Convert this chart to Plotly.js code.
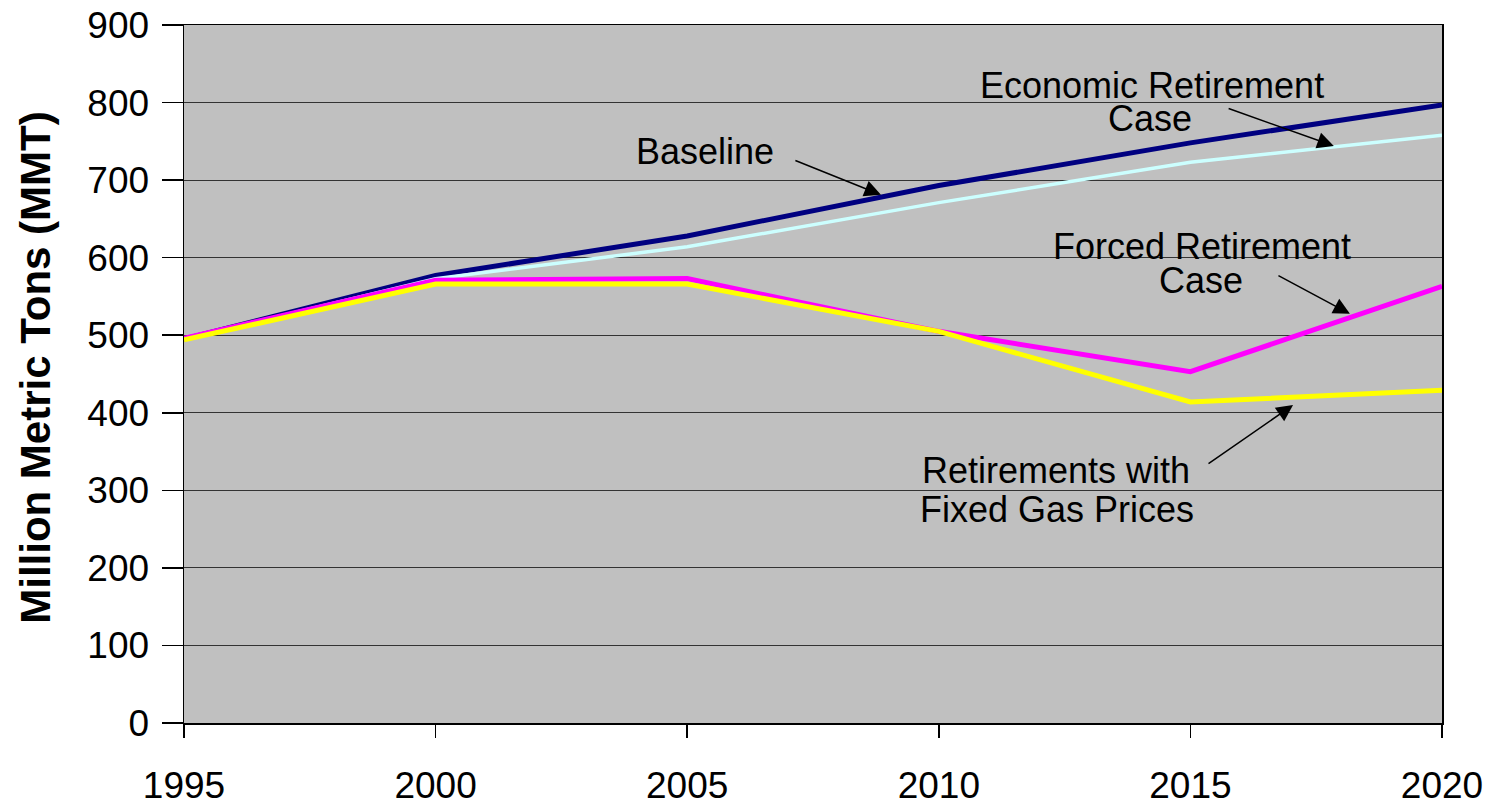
<!DOCTYPE html>
<html>
<head>
<meta charset="utf-8">
<script src="https://cdn.plot.ly/plotly-3.0.1.min.js"></script>
<style>html,body{margin:0;padding:0;background:#fff;}#chart{width:1503px;height:808px;}</style>
</head>
<body>
<div id="chart"></div>
<script>
const years = [1995, 2000, 2005, 2010, 2015, 2020];
const baseline = [495, 577, 628, 693, 748, 797];
const economicRetirement = [495, 573, 614, 671, 723, 758];
const forcedRetirement = [496, 571, 573, 505, 453, 563];
const fixedGasPrices = [494, 566, 566, 505, 414, 429];
const yTicks = [0, 100, 200, 300, 400, 500, 600, 700, 800, 900];
const xTicks = [1995, 2000, 2005, 2010, 2015, 2020];
const yTitle = 'Million Metric Tons (MMT)';

const FONT = 'Liberation Sans, Arial, sans-serif';

const traces = [
  {x: years, y: baseline, name: 'Baseline', mode: 'lines', line: {color: '#000080', width: 5}},
  {x: years, y: economicRetirement, name: 'Economic Retirement Case', mode: 'lines', line: {color: '#ccffff', width: 3.5}},
  {x: years, y: forcedRetirement, name: 'Forced Retirement Case', mode: 'lines', line: {color: '#ff00ff', width: 5}},
  {x: years, y: fixedGasPrices, name: 'Retirements with Fixed Gas Prices', mode: 'lines', line: {color: '#ffff00', width: 5}}
];

function label(text, x, y) {
  return {text: text, x: x, y: y, xref: 'x', yref: 'y', showarrow: false,
          xanchor: 'center', yanchor: 'middle', font: {family: FONT, size: 36, color: '#000'}};
}
function arrow(x, y, ax, ay) {
  return {text: '', x: x, y: y, ax: ax, ay: ay, xref: 'x', yref: 'y', axref: 'x', ayref: 'y',
          showarrow: true, arrowhead: 2, arrowsize: 2.2, arrowwidth: 1.5, arrowcolor: '#000', standoff: 0};
}

const annotations = [
  {text: '<b>' + yTitle + '</b>', xref: 'paper', yref: 'paper', x: -0.1176, y: 0.509,
   xanchor: 'center', yanchor: 'middle', textangle: -90, showarrow: false,
   font: {family: FONT, size: 42, color: '#000'}},
  label('Baseline', 2005.35, 737),
  arrow(2008.85, 681, 2007.12, 726),
  label('Economic Retirement', 2014.23, 822),
  label('Case', 2014.2, 779),
  arrow(2017.85, 744, 2015.73, 793),
  label('Forced Retirement', 2015.23, 614),
  label('Case', 2015.21, 571),
  arrow(2018.17, 527.6, 2016.72, 577.8),
  label('Retirements with', 2012.33, 325),
  label('Fixed Gas Prices', 2012.34, 275),
  arrow(2017.04, 410, 2015.33, 333)
];

const layout = {
  width: 1503, height: 808,
  margin: {l: 184, r: 61, t: 25, b: 85, pad: 0},
  paper_bgcolor: '#ffffff',
  plot_bgcolor: '#c0c0c0',
  showlegend: false,
  hovermode: false,
  font: {family: FONT, color: '#000'},
  xaxis: {
    range: [1995, 2020], tickvals: xTicks, ticktext: xTicks.map(String),
    showgrid: false, zeroline: false, showline: true, linecolor: '#000', linewidth: 1.5,
    mirror: true, ticks: 'outside', ticklen: 13, tickwidth: 1.5, tickcolor: '#000',
    tickfont: {family: FONT, size: 37, color: '#000'}, ticklabelstandoff: 16
  },
  yaxis: {
    range: [0, 900], tickvals: yTicks, ticktext: yTicks.map(String),
    showgrid: true, gridcolor: '#333333', gridwidth: 1, zeroline: false,
    showline: true, linecolor: '#000', linewidth: 1.5, mirror: true,
    ticks: 'outside', ticklen: 21, tickwidth: 1.5, tickcolor: '#000',
    tickfont: {family: FONT, size: 37, color: '#000'}, ticklabelstandoff: 5
  },
  annotations: annotations
};

Plotly.newPlot('chart', traces, layout, {displayModeBar: false, staticPlot: true});
</script>
</body>
</html>
